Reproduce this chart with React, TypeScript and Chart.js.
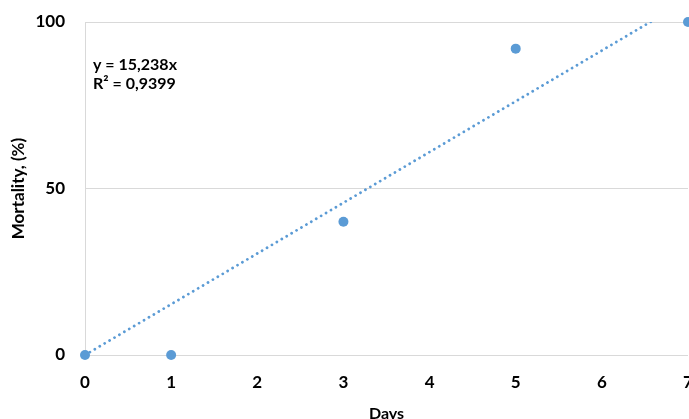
import React, { useEffect, useRef } from "react";
import { Chart, registerables } from "chart.js";

Chart.register(...registerables);

// Observed mortality per sampling day
const days: number[] = [0, 1, 3, 5, 7];
const mortality: number[] = [0, 0, 40, 92, 100];

// Axis ticks
const xTicks: number[] = [0, 1, 2, 3, 4, 5, 6, 7];
const yTicks: number[] = [0, 50, 100];

const xTitle = "Days";
const yTitle = "Mortality, (%)";

// Least-squares slope for a line forced through the origin
const slope =
  days.reduce((s, x, i) => s + x * mortality[i], 0) /
  days.reduce((s, x) => s + x * x, 0);
const meanY = mortality.reduce((s, y) => s + y, 0) / mortality.length;
const ssRes = days.reduce((s, x, i) => s + (mortality[i] - slope * x) ** 2, 0);
const ssTot = mortality.reduce((s, y) => s + (y - meanY) ** 2, 0);
const r2 = 1 - ssRes / ssTot;

const fmt = (v: number, d: number) => v.toFixed(d).replace(".", ",");
const eqLine1 = `y = ${fmt(slope, 3)}x`;
const eqLine2 = `R² = ${fmt(r2, 4)}`;

const BLUE = "#5B9BD5";
const GRID = "#D9D9D9";
const FONT = "Lato, 'Open Sans', sans-serif";

const trendStart = Math.min(...days);
const trendEnd = Math.max(...days);

const CANVAS_W = 700;
const CANVAS_H = 430;

export default function App() {
  const ref = useRef<HTMLCanvasElement | null>(null);

  useEffect(() => {
    if (!ref.current) return;
    document.body.style.margin = "0";
    document.body.style.overflow = "hidden";

    const equationPlugin = {
      id: "equationLabel",
      afterDatasetsDraw(chart: any) {
        const { ctx, chartArea } = chart;
        ctx.save();
        ctx.fillStyle = "#000";
        ctx.font = `bold 16px ${FONT}`;
        ctx.textBaseline = "middle";
        ctx.textAlign = "left";
        const x = chartArea.left + 8;
        ctx.fillText(eqLine1, x, 65);
        ctx.fillText(eqLine2, x, 84);
        ctx.restore();
      },
    };

    const chart = new Chart(ref.current, {
      type: "scatter",
      data: {
        datasets: [
          {
            label: "Trend",
            type: "line",
            data: [
              { x: trendStart, y: slope * trendStart },
              { x: trendEnd, y: slope * trendEnd },
            ],
            borderColor: BLUE,
            borderWidth: 2.8,
            borderCapStyle: "round",
            borderDash: [0.01, 5.7],
            pointRadius: 0,
            fill: false,
            order: 2,
          } as any,
          {
            label: "Mortality",
            data: days.map((d, i) => ({ x: d, y: mortality[i] })),
            backgroundColor: BLUE,
            borderColor: BLUE,
            pointRadius: 5,
            pointBorderWidth: 0,
            clip: false,
            order: 1,
          } as any,
        ],
      },
      options: {
        responsive: false,
        animation: false,
        layout: {
          autoPadding: false,
          padding: { top: 22, right: CANVAS_W - 688, left: 0, bottom: 0 },
        },
        plugins: {
          legend: { display: false },
          tooltip: { enabled: false },
        },
        scales: {
          x: {
            type: "linear",
            min: 0,
            max: 7,
            afterBuildTicks: (s: any) => {
              s.ticks = xTicks.map((v) => ({ value: v }));
            },
            afterFit: (s: any) => {
              s.height = CANVAS_H - 355;
              s.paddingLeft = 0;
              s.paddingRight = 0;
            },
            grid: { display: false, drawTicks: false },
            border: { display: false },
            ticks: {
              padding: 17,
              color: "#000",
              font: { family: FONT, size: 17, weight: "bold" },
              maxRotation: 0,
            },
            title: {
              display: true,
              text: xTitle,
              color: "#000",
              font: { family: FONT, size: 16, weight: "bold" },
              padding: { top: 0, bottom: 7 },
            },
          },
          y: {
            type: "linear",
            min: 0,
            max: 100,
            afterBuildTicks: (s: any) => {
              s.ticks = yTicks.map((v) => ({ value: v }));
            },
            afterFit: (s: any) => {
              s.width = 85;
              s.paddingTop = 0;
              s.paddingBottom = 0;
            },
            grid: { color: GRID, lineWidth: 1, drawTicks: false },
            border: { display: true, color: GRID, width: 1 },
            ticks: {
              padding: 20,
              color: "#000",
              font: { family: FONT, size: 17, weight: "bold" },
            },
            title: {
              display: true,
              text: yTitle,
              color: "#000",
              font: { family: FONT, size: 17, weight: "bold" },
              padding: { top: 8, bottom: 0 },
            },
          },
        },
      },
      plugins: [equationPlugin],
    } as any);

    return () => chart.destroy();
  }, []);

  return (
    <div
      style={{
        position: "fixed",
        top: 0,
        left: 0,
        width: 689,
        height: 419,
        overflow: "hidden",
        background: "#fff",
      }}
    >
      <canvas
        ref={ref}
        width={CANVAS_W}
        height={CANVAS_H}
        style={{ display: "block" }}
      />
    </div>
  );
}
